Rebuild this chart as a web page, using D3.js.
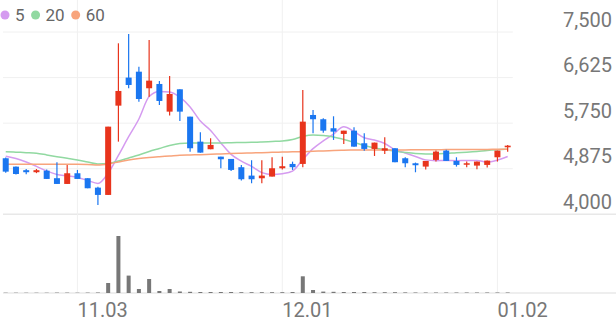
<!DOCTYPE html>
<html>
<head>
<meta charset="utf-8">
<script src="https://cdn.jsdelivr.net/npm/d3@7"></script>
<style>
  body { margin: 0; background: #fff; }
  svg { display: block; font-family: Roboto, "Noto Sans", sans-serif; }
</style>
</head>
<body>
<div id="chart"></div>
<script>
// trading days, one per candle
const dates = [
  '10.23','10.24','10.27','10.28','10.29','10.30','10.31',
  '11.03','11.04','11.05','11.06','11.07','11.10','11.11','11.12','11.13','11.14',
  '11.17','11.18','11.19','11.20','11.21','11.24','11.25','11.26','11.27','11.28',
  '12.01','12.02','12.03','12.04','12.05','12.08','12.09','12.10','12.11','12.12',
  '12.15','12.16','12.17','12.18','12.19','12.22','12.23','12.24','12.26','12.29','12.30',
  '01.02','01.05'
]
const open  = [5076,4915,4847,4808,4838,4693,4583,4788,4693,4512, 4372,6086,6625,6738,6420,6502,5971,6400,5875,5395,
               5249,5107,5063,4904,4743,4692,4724,4884,4967,4967, 5907,5825,5652,5543,5606,5364,5255,5222,5268,5076,
               4980,4916,5044,5223,5025,4954,4935,4948,5095,5287]
const high  = [5090,4920,4870,4870,4860,4998,4948,4852,4693,4531, 5683,7283,7462,6834,7346,6560,6656,6400,5875,5575,
               5460,5107,5063,4948,5038,5038,5095,5107,5011,6387, 6003,5844,5882,5606,5670,5556,5376,5480,5268,5095,
               4993,5025,5223,5240,5095,5012,5012,5031,5223,5332]
const low   = [4800,4765,4770,4790,4679,4583,4583,4679,4500,4180, 4372,5395,6420,6162,6258,6099,5896,5792,5203,5184,
               5249,4884,4833,4647,4596,4596,4724,4862,4852,4904, 5556,5567,5428,5351,5299,5222,5120,5159,5000,4904,
               4807,4859,5012,5025,4916,4904,4865,4897,5012,5203]
const close = [4819,4774,4808,4847,4679,4583,4788,4679,4500,4372, 5683,6368,6483,6214,6566,6176,6310,5971,5268,5184,
               5332,5057,4852,4673,4673,4743,4884,4923,4904,5779, 5825,5606,5587,5606,5299,5255,5376,5268,5000,4980,
               4942,5025,5204,5025,4948,4980,5012,5031,5223,5318]
const volume = [3,3,3,3,3,4,4,3,4,5, 100,570,174,40,140,20,40,15,12,10,
                10,10,10,8,8,8,8,8,10,167, 30,14,12,10,10,10,8,8,8,6,
                5,5,5,5,5,5,5,5,5,5]
const ma5  = [5114,5072,5005,4920,4833,4766,4737,4708,4650,4593, 4790,5130,5490,5830,6260,6360,6350,6250,6060,5790,
              5610,5370,5150,5020,4920,4800,4765,4780,4830,5050, 5260,5410,5540,5680,5590,5470,5425,5360,5240,5175,
              5110,5045,5030,5035,5030,5035,5035,5000,5040,5110]
const ma20 = [5203,5193,5184,5172,5140,5107,5076,5044,5005,4967, 4976,5024,5082,5140,5207,5264,5322,5360,5370,5370,
              5370,5370,5374,5378,5381,5389,5399,5408,5437,5495, 5523,5514,5485,5437,5380,5322,5274,5245,5213,5188,
              5168,5159,5159,5168,5182,5193,5207,5226,5239,5249]
const ma60 = [4961,4961,4961,4961,4961,4961,4961,4961,4958,4948, 4967,5005,5044,5072,5092,5107,5120,5134,5140,5145,
              5153,5159,5165,5172,5178,5184,5190,5195,5199,5203, 5211,5216,5224,5230,5234,5236,5236,5236,5236,5236,
              5239,5240,5241,5242,5243,5244,5245,5246,5248,5249]
const priceTicks = [4000, 4875, 5750, 6625, 7500]
const dateTicks = ['11.03', '12.01', '01.02']
const maSeries = [
  { name: '5', values: ma5, color: '#d59bf0' },
  { name: '20', values: ma20, color: '#91d9a1' },
  { name: '60', values: ma60, color: '#f8a47c' }
]

const width = 616
const height = 321
const upColor = '#e8341c'
const downColor = '#1a76f0'

const svg = d3.select('#chart')
  .append('svg')
    .attr('width', width)
    .attr('height', height)

const x = d3.scaleBand()
  .domain(d3.range(dates.length))
  .range([0.6, 512.8])
const cx = i => x(i) + x.bandwidth() / 2

const y = d3.scaleLinear()
  .domain([4000, 7500])
  .range([214.3, 32])

const yVol = d3.scaleLinear()
  .domain([0, d3.max(volume)])
  .range([293, 236])

// horizontal grid
svg.append('g')
  .selectAll('line')
  .data(priceTicks.slice(1))
  .enter()
  .append('line')
    .attr('x1', 3).attr('x2', x.range()[1])
    .attr('y1', d => y(d)).attr('y2', d => y(d))
    .attr('stroke', '#f0f0f0')

// pane borders
svg.append('g')
  .selectAll('line')
  .data([y(4000), yVol(0)])
  .enter()
  .append('line')
    .attr('x1', 3).attr('x2', width)
    .attr('y1', d => d).attr('y2', d => d)
    .attr('stroke', '#e8e8e8')
    .attr('stroke-width', 1.5)

// vertical grid at month starts
const tickIdx = dateTicks.map(d => dates.indexOf(d))
svg.append('g')
  .selectAll('line')
  .data(tickIdx)
  .enter()
  .append('line')
    .attr('x1', d => cx(d)).attr('x2', d => cx(d))
    .attr('y1', 0).attr('y2', yVol(0))
    .attr('stroke', '#f0f0f0')

// price labels
const yAxis = svg.append('g')
  .attr('transform', 'translate(612,0)')
  .call(d3.axisLeft(y).tickValues(priceTicks).tickFormat(d3.format(',')).tickSize(0).tickPadding(0))
yAxis.select('.domain').remove()
yAxis.selectAll('text')
  .attr('dy', '-0.3em')
  .attr('fill', '#777')
  .style('font-size', '20px')
  .style('font-family', 'Roboto')

// date labels
svg.append('g')
  .selectAll('text')
  .data(tickIdx)
  .enter()
  .append('text')
    .attr('x', d => cx(d))
    .attr('y', 316.5)
    .attr('fill', '#777')
    .style('font-size', '20px')
    .text(d => dates[d])

// volume
svg.append('g')
  .selectAll('rect')
  .data(volume)
  .enter()
  .append('rect')
    .attr('x', (d, i) => cx(i) - 2)
    .attr('width', 4)
    .attr('y', d => yVol(d))
    .attr('height', d => yVol(0) - yVol(d))
    .attr('fill', '#777')

// moving averages
const line = d3.line()
  .x((d, i) => cx(i))
  .y(d => y(d))
  .curve(d3.curveMonotoneX)

svg.append('g')
  .selectAll('path')
  .data(maSeries)
  .enter()
  .append('path')
    .attr('d', d => line(d.values))
    .attr('fill', 'none')
    .attr('stroke', d => d.color)
    .attr('stroke-width', 1.5)

// candles
const candles = svg.append('g')
  .selectAll('g')
  .data(dates.map((d, i) => ({ i, o: open[i], h: high[i], l: low[i], c: close[i] })))
  .enter()
  .append('g')
const col = d => d.c >= d.o ? upColor : downColor

candles.append('line')
  .attr('x1', d => cx(d.i)).attr('x2', d => cx(d.i))
  .attr('y1', d => y(d.h)).attr('y2', d => y(d.l))
  .attr('stroke', col)
  .attr('stroke-width', 1.2)

candles.append('rect')
  .attr('x', d => cx(d.i) - 3)
  .attr('width', 6)
  .attr('y', d => y(Math.max(d.o, d.c)))
  .attr('height', d => Math.max(1.5, Math.abs(y(d.o) - y(d.c))))
  .attr('fill', col)

// legend
let lx = 5
const legend = svg.append('g')
maSeries.forEach(s => {
  legend.append('circle')
    .attr('cx', lx).attr('cy', 15).attr('r', 4.5)
    .attr('fill', s.color)
  const t = legend.append('text')
    .attr('x', lx + 10).attr('y', 21)
    .attr('fill', '#666')
    .style('font-size', '17px')
    .text(s.name)
  lx += 10 + t.node().getComputedTextLength() + 11
})
</script>
</body>
</html>
